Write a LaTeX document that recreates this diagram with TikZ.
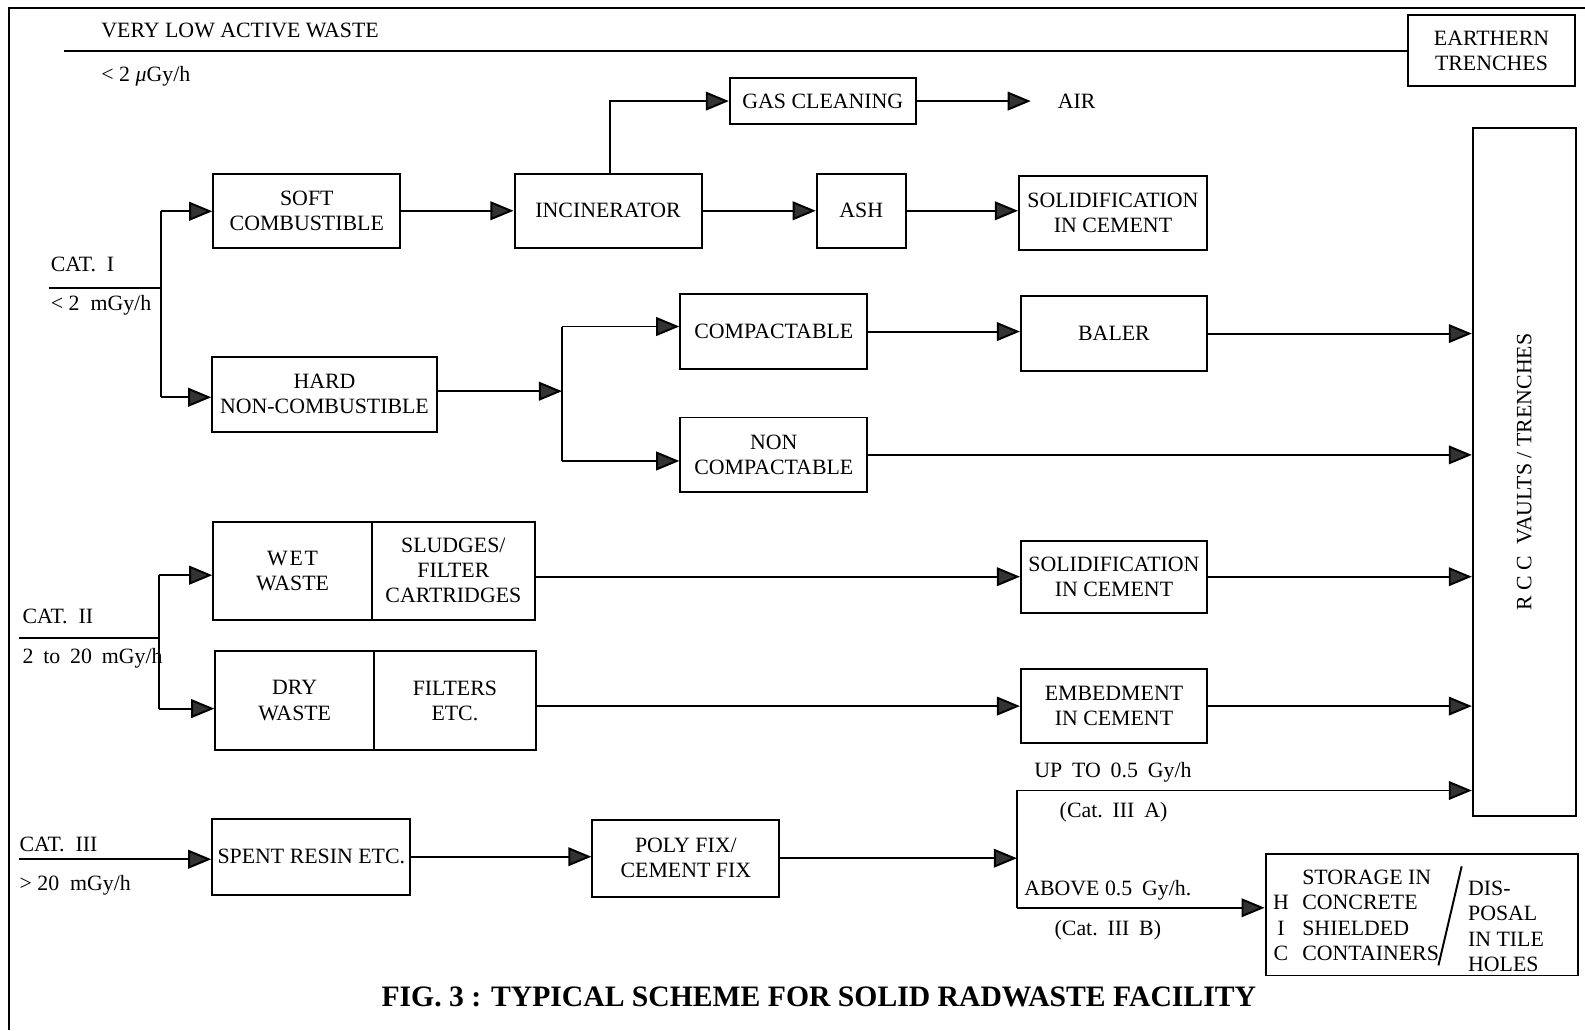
\documentclass[tikz,border=0pt]{standalone}
\usepackage{fontspec}
\setmainfont{Liberation Serif}
\usetikzlibrary{arrows.meta}
\newcommand\fs{\fontsize{12.3}{14.2}\selectfont}
\newcommand\bx[6]{\node[box, minimum width={(#4-#2)*0.02cm}, minimum height={(#5-#3)*0.02cm}] (#1) at ({(#2+#4)/2},{(#3+#5)/2}) {#6};}
\begin{document}
\begin{tikzpicture}[x=0.02cm,y=-0.02cm,
  box/.style={draw, line width=1.1pt, inner sep=0pt, align=center, font=\fs},
  arr/.style={line width=1.1pt, -{Triangle[length=13pt,width=10.5pt,fill=black!80]}},
  ln/.style={line width=1.1pt},
  lbl/.style={inner sep=0pt, anchor=west, font=\fs}]
\useasboundingbox (0,0) rectangle (1568,1019);
% outer frame (left and top)
\draw[ln] (9,1019) -- (9,8) -- (1568,8);

% boxes
\bx{earth}{1393}{15}{1558}{85}{EARTHERN\\TRENCHES}
\bx{gas}{722}{77}{906}{123}{GAS CLEANING}
\bx{soft}{211}{172}{396}{245}{SOFT\\COMBUSTIBLE}
\bx{inc}{509}{172}{694}{245}{INCINERATOR}
\bx{ash}{808}{172}{896}{245}{ASH}
\bx{sol1}{1008}{174}{1194}{247}{SOLIDIFICATION\\IN CEMENT}
\bx{hard}{210}{353}{432}{427}{HARD\\NON-COMBUSTIBLE}
\bx{comp}{673}{291}{858}{365}{COMPACTABLE}
\bx{baler}{1010}{293}{1194}{367}{BALER}
\bx{ncomp}{673}{413}{858}{487}{NON\\COMPACTABLE}
\bx{rcc}{1457}{127}{1559}{807}{}
\node[font=\fs, rotate=90] (rcct) at (rcc.center) {R C C\ \ VAULTS / TRENCHES};
\bx{wet}{211}{516}{368}{613}{W\kern1pt E\kern1pt T\\WASTE}
\bx{sludge}{368}{516}{529}{613}{SLUDGES/\\FILTER\\CARTRIDGES}
\bx{sol2}{1010}{535}{1194}{606}{SOLIDIFICATION\\IN CEMENT}
\bx{dry}{213}{644}{370}{742}{DRY\\WASTE}
\bx{filt}{370}{644}{530}{742}{FILTERS\\ETC.}
\bx{emb}{1010}{662}{1194}{735}{EMBEDMENT\\IN CEMENT}
\bx{spent}{210}{810}{406}{885}{SPENT RESIN ETC.}
\bx{poly}{586}{811}{771}{887}{POLY FIX/\\CEMENT FIX}
\bx{hic}{1252}{845}{1561}{965}{}

% HIC contents
\node[lbl, align=center] (hicl) at (1259,918) {H\\I\\C};
\node[lbl, align=left] (hics) at (1288,905.5) {STORAGE IN\\CONCRETE\\SHIELDED\\CONTAINERS};
\node[lbl, align=left] (hicd) at (1452,916.5) {DIS-\\POSAL\\IN TILE\\HOLES};
\coordinate (sl1) at (1446,857);
\coordinate (sl2) at (1423,955);
\draw[ln] (sl1) -- (sl2);

% labels
\node[lbl] (vlaw) at (100,30) {VERY LOW ACTIVE WASTE};
\node[lbl] (vlawd) at (100,75) {< 2 \textit{μ}Gy/h};
\node[lbl] (cat1) at (50,262) {CAT.\ \ I};
\node[lbl] (cat1d) at (50,302) {< 2 \ mGy/h};
\node[lbl] (cat2) at (22,610) {CAT.\ \ II};
\node[lbl] (cat2d) at (22,651) {2\hspace{0.45em}to\hspace{0.45em}20\hspace{0.45em}mGy/h};
\node[lbl] (cat3) at (19,835) {CAT.\ \ III};
\node[lbl] (cat3d) at (19,876) {> 20 \ mGy/h};
\node[lbl] (upto) at (1023,764) {UP\hspace{0.45em}TO\hspace{0.45em}0.5\hspace{0.45em}Gy/h};
\node[lbl] (c3a) at (1048,804) {(Cat.\hspace{0.45em}III\hspace{0.45em}A)};
\node[lbl] (above) at (1013,881) {ABOVE 0.5\hspace{0.45em}Gy/h.};
\node[lbl] (c3b) at (1043,920) {(Cat.\hspace{0.45em}III\hspace{0.45em}B)};
\node[font=\fs, inner xsep=15pt, inner ysep=0pt] (air) at (1065,100) {AIR};
\node[font=\fontsize{16.7}{19}\selectfont\bfseries] (title) at (810,986) {FIG. 3 : TYPICAL SCHEME FOR SOLID RADWASTE FACILITY};

% very low active waste line
\coordinate (t0) at (63,50);
\draw[ln] (t0) -- (t0 -| earth.west);

% CAT I
\coordinate (c1) at (48,285);
\coordinate (j1) at (159,285);
\coordinate (j1t) at (159,209);
\coordinate (j1b) at (159,393);
\draw[ln] (c1) -- (j1);
\draw[ln] (j1t) -- (j1b);
\draw[arr] (j1t) -- (j1t -| soft.west);
\draw[arr] (j1b) -- (j1b -| hard.west);
\draw[arr] (soft.east) -- (inc.west);
\draw[arr] (inc.east) -- (ash.west);
\draw[arr] (ash.east) -- (ash.east -| sol1.west);
\coordinate (g1) at (603,100);
\draw[arr] (inc.north -| g1) -- (g1) -- (gas.west);
\draw[arr] (gas.east) -- (air.west);

\coordinate (j2) at (556,387);
\coordinate (j2t) at (556,323);
\coordinate (j2b) at (556,456);
\draw[arr] (hard.east |- j2) -- (j2);
\draw[ln] (j2t) -- (j2b);
\draw[arr] (j2t) -- (j2t -| comp.west);
\draw[arr] (j2b) -- (j2b -| ncomp.west);
\draw[arr] (comp.east) -- (comp.east -| baler.west);
\draw[arr] (baler.east) -- (baler.east -| rcc.west);
\draw[arr] (ncomp.east) -- (ncomp.east -| rcc.west);

% CAT II
\coordinate (c2) at (19,631);
\coordinate (j3) at (157,631);
\coordinate (j3t) at (157,569);
\coordinate (j3b) at (157,701);
\draw[ln] (c2) -- (j3);
\draw[ln] (j3t) -- (j3b);
\draw[arr] (j3t) -- (j3t -| wet.west);
\draw[arr] (j3b) -- (j3b -| dry.west);
\draw[arr] (sol2.west -| sludge.east) -- (sol2.west);
\draw[arr] (sol2.east) -- (sol2.east -| rcc.west);
\draw[arr] (emb.west -| filt.east) -- (emb.west);
\draw[arr] (emb.east) -- (emb.east -| rcc.west);

% CAT III
\coordinate (c3) at (19,850);
\draw[arr] (c3) -- (c3 -| spent.west);
\draw[arr] (spent.east) -- (spent.east -| poly.west);
\coordinate (j4) at (1006,851);
\coordinate (j4t) at (1006,782);
\coordinate (j4b) at (1006,898);
\draw[arr] (poly.east) -- (poly.east -| j4);
\draw[ln] (j4t) -- (j4b);
\draw[arr] (j4t) -- (j4t -| rcc.west);
\draw[arr] (j4b) -- (j4b -| hic.west);
\end{tikzpicture}
\end{document}
